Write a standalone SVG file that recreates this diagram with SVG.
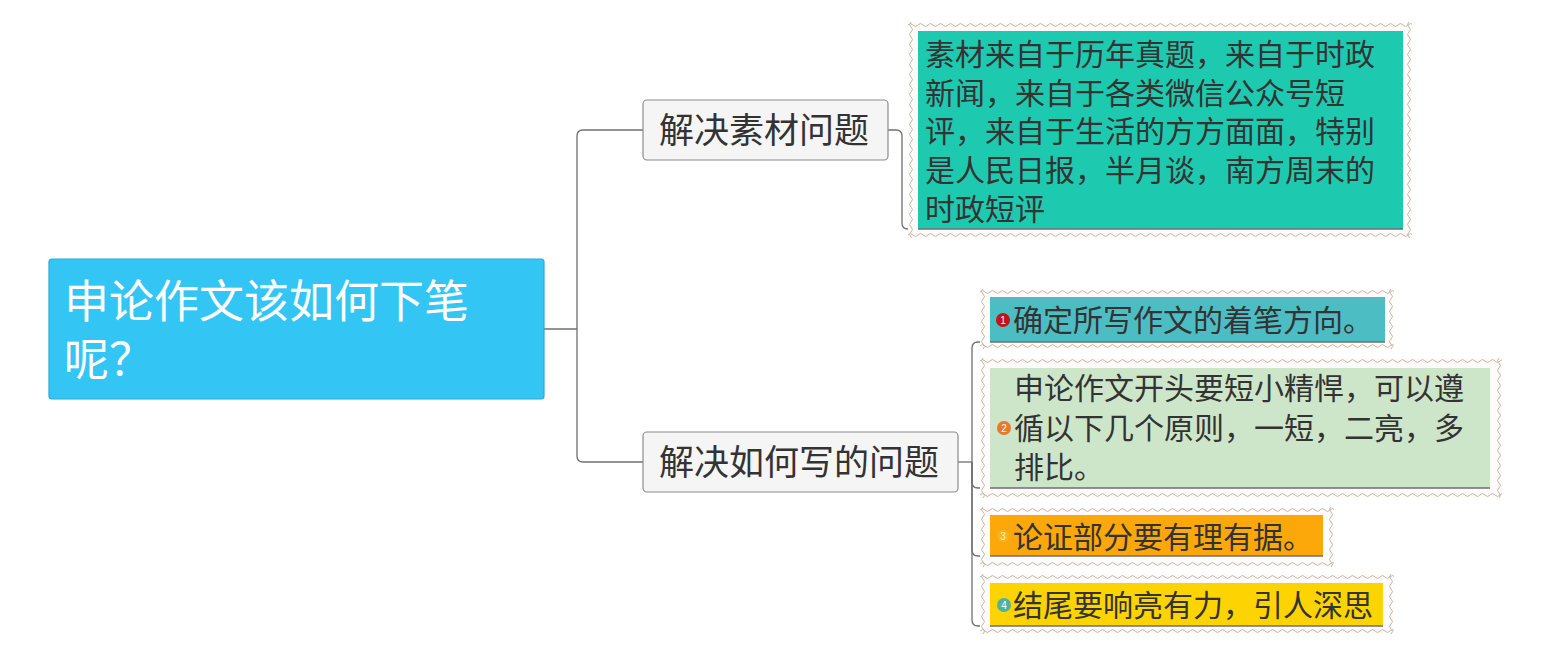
<svg xmlns="http://www.w3.org/2000/svg" width="1547" height="658" viewBox="0 0 1547 658">
<style>
.t{font-family:"Liberation Sans","Noto Sans CJK SC",sans-serif;dominant-baseline:central}
.root{fill:#ffffff;font-size:45px}
.br{fill:#333333;font-size:35px}
.tx{fill:#333333;font-size:30px}
.num{font-family:"Liberation Sans",sans-serif;font-size:10px;fill:#ffffff;text-anchor:middle;dominant-baseline:central}
.conn{fill:none;stroke:#6f6f6f;stroke-width:1.3}
.brbox{fill:#f5f5f5;stroke:#8c8c8c;stroke-width:1.2}
.frame{fill:#fdfcfa}
.wh{fill:url(#wh)}
.wv{fill:url(#wv)}
</style>
<defs>
<pattern id="wh" width="10" height="6" patternUnits="userSpaceOnUse"><path d="M0,3 Q2.5,0 5,3 T10,3" fill="none" stroke="#c4b7a8" stroke-width="1"/></pattern>
<pattern id="wv" width="6" height="10" patternUnits="userSpaceOnUse"><path d="M3,0 Q0,2.5 3,5 T3,10" fill="none" stroke="#c4b7a8" stroke-width="1"/></pattern>
</defs>
<rect width="1547" height="658" fill="#ffffff"/>

<g id="connectors">
<path class="conn" d="M544,329 H577"/>
<path class="conn" d="M643,130 H583 Q577,130 577,136 V456 Q577,462 583,462 H643"/>
<path class="conn" d="M888,130 H896 Q902,130 902,136 V223 Q902,229 908,229 H1403"/>
<path class="conn" d="M958,462 H972"/>
<path class="conn" d="M972,462 V348 Q972,342 978,342 H1385"/>
<path class="conn" d="M972,462 V482 Q972,488 978,488 H1490"/>
<path class="conn" d="M972,462 V550 Q972,556 978,556 H1323"/>
<path class="conn" d="M972,462 V620 Q972,626 978,626 H1383"/>
</g>

<g id="root">
<rect x="49" y="259" width="495" height="140" rx="3" fill="#33c6f4" stroke="#2aa9d8" stroke-width="1.2"/>
<text class="t root"><tspan x="64" y="302">申论作文该如何下笔</tspan><tspan x="64" y="360">呢？</tspan></text>
</g>

<g id="branch1">
<rect class="brbox" x="643" y="100" width="245" height="60" rx="4"/>
<text class="t br" x="659" y="130">解决素材问题</text>
</g>

<g id="branch2">
<rect class="brbox" x="643" y="432" width="315" height="60" rx="4"/>
<text class="t br" x="659" y="462">解决如何写的问题</text>
</g>

<g id="note1">
<g transform="translate(908,22)">
<rect class="frame" width="504" height="216"/>
<rect class="wh" width="504" height="6"/>
<rect class="wh" transform="translate(0,210)" width="504" height="6"/>
<rect class="wv" width="6" height="216"/>
<rect class="wv" transform="translate(498,0)" width="6" height="216"/>
</g>
<rect x="918" y="31" width="485" height="198" fill="#1dcab0"/>
<path class="conn" d="M918,229 H1403"/>
<text class="t tx"><tspan x="925" y="54">素材来自于历年真题，来自于时政</tspan><tspan x="925" y="93">新闻，来自于各类微信公众号短</tspan><tspan x="925" y="131">评，来自于生活的方方面面，特别</tspan><tspan x="925" y="170">是人民日报，半月谈，南方周末的</tspan><tspan x="925" y="209">时政短评</tspan></text>
</g>

<g id="item1">
<g transform="translate(980,289)">
<rect class="frame" width="414" height="60"/>
<rect class="wh" width="414" height="6"/>
<rect class="wh" transform="translate(0,54)" width="414" height="6"/>
<rect class="wv" width="6" height="60"/>
<rect class="wv" transform="translate(408,0)" width="6" height="60"/>
</g>
<rect x="990" y="297" width="395" height="45" fill="#4dbdc4"/>
<path class="conn" d="M990,342 H1385"/>
<circle cx="1003" cy="320" r="7" fill="#c4121b"/>
<text class="num" x="1003" y="320">1</text>
<text class="t tx" x="1013" y="320">确定所写作文的着笔方向。</text>
</g>

<g id="item2">
<g transform="translate(980,358)">
<rect class="frame" width="522" height="140"/>
<rect class="wh" width="522" height="6"/>
<rect class="wh" transform="translate(0,134)" width="522" height="6"/>
<rect class="wv" width="6" height="140"/>
<rect class="wv" transform="translate(516,0)" width="6" height="140"/>
</g>
<rect x="990" y="368" width="500" height="120" fill="#cde6c9"/>
<path class="conn" d="M990,488 H1490"/>
<circle cx="1004" cy="428" r="7" fill="#e8782a"/>
<text class="num" x="1004" y="428">2</text>
<text class="t tx"><tspan x="1014" y="388">申论作文开头要短小精悍，可以遵</tspan><tspan x="1014" y="428">循以下几个原则，一短，二亮，多</tspan><tspan x="1014" y="467">排比。</tspan></text>
</g>

<g id="item3">
<g transform="translate(980,507)">
<rect class="frame" width="354" height="60"/>
<rect class="wh" width="354" height="6"/>
<rect class="wh" transform="translate(0,54)" width="354" height="6"/>
<rect class="wv" width="6" height="60"/>
<rect class="wv" transform="translate(348,0)" width="6" height="60"/>
</g>
<rect x="990" y="515" width="333" height="41" fill="#fca70a"/>
<path class="conn" d="M990,556 H1323"/>
<circle cx="1003" cy="536" r="6" fill="#fbb21e"/>
<text class="num" x="1003" y="536" style="fill:#fff6c8">3</text>
<text class="t tx" x="1013" y="537">论证部分要有理有据。</text>
</g>

<g id="item4">
<g transform="translate(980,574)">
<rect class="frame" width="414" height="60"/>
<rect class="wh" width="414" height="6"/>
<rect class="wh" transform="translate(0,54)" width="414" height="6"/>
<rect class="wv" width="6" height="60"/>
<rect class="wv" transform="translate(408,0)" width="6" height="60"/>
</g>
<rect x="990" y="583" width="393" height="43" fill="#fdd302"/>
<path class="conn" d="M990,626 H1383"/>
<circle cx="1004" cy="605" r="7" fill="#4fb2a0"/>
<text class="num" x="1004" y="605">4</text>
<text class="t tx" x="1013" y="605">结尾要响亮有力，引人深思</text>
</g>
</svg>
